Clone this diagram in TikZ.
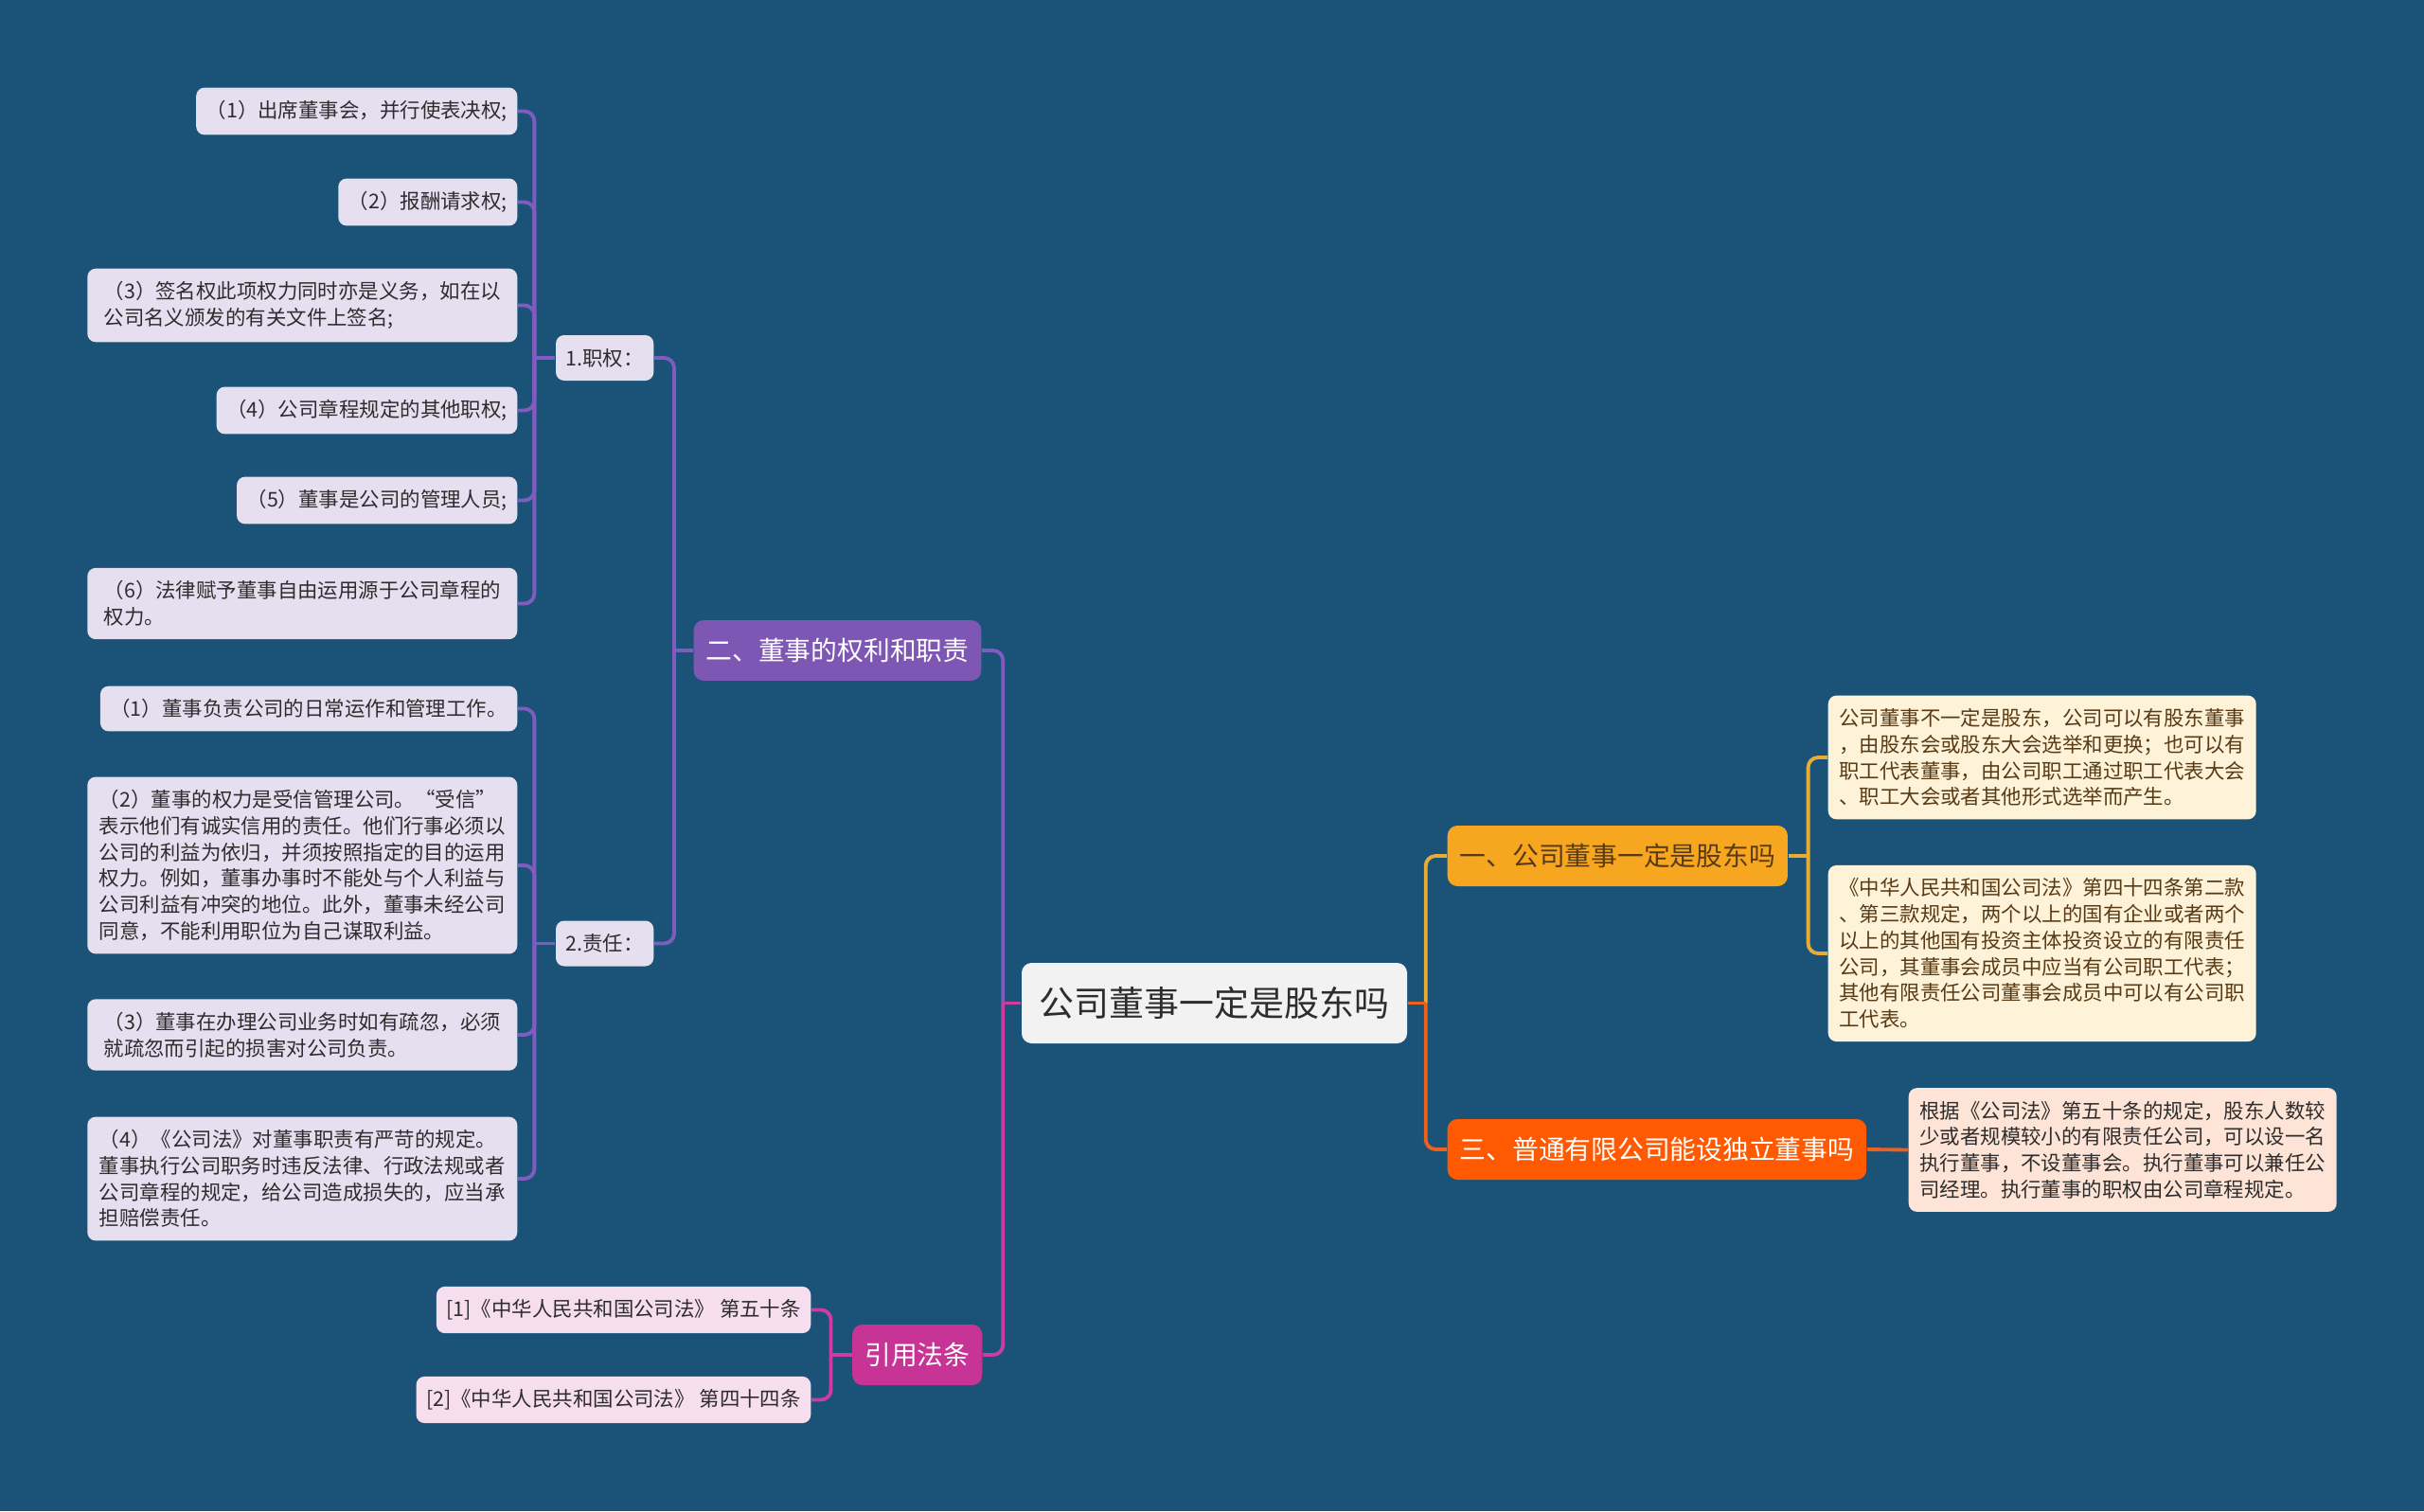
\documentclass[tikz,border=0pt]{standalone}
\usepackage{fontspec}
\newfontfamily\cjk{Noto Sans CJK SC}
\usetikzlibrary{calc}
\definecolor{bgblue}{RGB}{26,83,119}
\definecolor{rootgray}{RGB}{242,242,242}
\definecolor{inkdark}{RGB}{45,45,45}
\definecolor{lavleaf}{RGB}{229,223,240}
\definecolor{purplebr}{RGB}{126,87,180}
\definecolor{purpleln}{RGB}{128,92,192}
\definecolor{goldbr}{RGB}{247,166,32}
\definecolor{goldln}{RGB}{232,172,52}
\definecolor{creamleaf}{RGB}{254,242,216}
\definecolor{browntx}{RGB}{88,58,20}
\definecolor{redbr}{RGB}{255,90,2}
\definecolor{redln}{RGB}{238,96,30}
\definecolor{peachleaf}{RGB}{253,228,214}
\definecolor{magbr}{RGB}{200,52,150}
\definecolor{magln}{RGB}{205,60,160}
\definecolor{pinkleaf}{RGB}{246,222,238}

\tikzset{
  box/.style={rounded corners=2.5pt, inner xsep=3pt, inner ysep=3.9pt, align=left},
  leaf/.style={box, fill=lavleaf, text=inkdark, font=\cjk\fontsize{6.1}{7.9}\selectfont},
  wideleaf/.style={leaf, minimum width=4.54cm},
  note/.style={box, text=browntx, font=\cjk\fontsize{6.1}{7.9}\selectfont, minimum width=4.52cm},
  sub/.style={leaf, minimum width=1.03cm, minimum height=0.48cm, align=center},
  branch/.style={rounded corners=3pt, inner xsep=3.7pt, minimum height=0.64cm, font=\cjk\fontsize{7.9}{9}\selectfont},
  link/.style={line width=1.1pt, rounded corners=3pt}
}

\begin{document}
\begin{tikzpicture}
\fill[bgblue] (0,0) rectangle (25.6,-15.96);
\useasboundingbox (0,0) rectangle (25.6,-15.96);

\node[rounded corners=3pt, fill=rootgray, text=inkdark, minimum width=4.07cm, minimum height=0.85cm,
      font=\cjk\fontsize{10.5}{12}\selectfont] (root) at (12.825,-10.595) {公司董事一定是股东吗};

\node[branch, fill=goldbr, text=browntx, anchor=west] (b1) at (15.28,-9.04) {一、公司董事一定是股东吗};
\node[branch, fill=redbr, text=white, anchor=west] (b3) at (15.28,-12.14) {三、普通有限公司能设独立董事吗};
\node[branch, fill=purplebr, text=white, anchor=east] (b2) at (10.37,-6.87) {二、董事的权利和职责};
\node[branch, fill=magbr, text=white, anchor=east] (b4) at (10.38,-14.31) {引用法条};

\node[note, fill=creamleaf, anchor=west] (r1) at (19.30,-8.00) {公司董事不一定是股东，公司可以有股东董事\\
，由股东会或股东大会选举和更换；也可以有\\
职工代表董事，由公司职工通过职工代表大会\\
、职工大会或者其他形式选举而产生。};
\node[note, fill=creamleaf, anchor=west] (r2) at (19.30,-10.07) {《中华人民共和国公司法》第四十四条第二款\\
、第三款规定，两个以上的国有企业或者两个\\
以上的其他国有投资主体投资设立的有限责任\\
公司，其董事会成员中应当有公司职工代表；\\
其他有限责任公司董事会成员中可以有公司职\\
工代表。};
\node[note, fill=peachleaf, text=inkdark, anchor=west] (r3) at (20.15,-12.145) {根据《公司法》第五十条的规定，股东人数较\\
少或者规模较小的有限责任公司，可以设一名\\
执行董事，不设董事会。执行董事可以兼任公\\
司经理。执行董事的职权由公司章程规定。};

\node[sub, anchor=east] (s1) at (6.91,-3.78) {1.职权：};
\node[sub, anchor=east] (s2) at (6.91,-9.965) {2.责任：};

\node[leaf, anchor=east] (p1) at (5.47,-1.175) {（1）出席董事会，并行使表决权;};
\node[leaf, anchor=east] (p2) at (5.47,-2.135) {（2）报酬请求权;};
\node[wideleaf, anchor=east] (p3) at (5.47,-3.225) {（3）签名权此项权力同时亦是义务，如在以\\
公司名义颁发的有关文件上签名;};
\node[leaf, anchor=east] (p4) at (5.47,-4.335) {（4）公司章程规定的其他职权;};
\node[leaf, anchor=east] (p5) at (5.47,-5.285) {（5）董事是公司的管理人员;};
\node[wideleaf, anchor=east] (p6) at (5.47,-6.375) {（6）法律赋予董事自由运用源于公司章程的\\
权力。};

\node[leaf, anchor=east] (d1) at (5.47,-7.485) {（1）董事负责公司的日常运作和管理工作。};
\node[wideleaf, anchor=east] (d2) at (5.47,-9.14) {（2）董事的权力是受信管理公司。“受信”\\
表示他们有诚实信用的责任。他们行事必须以\\
公司的利益为依归，并须按照指定的目的运用\\
权力。例如，董事办事时不能处与个人利益与\\
公司利益有冲突的地位。此外，董事未经公司\\
同意，不能利用职位为自己谋取利益。};
\node[wideleaf, anchor=east] (d3) at (5.47,-10.93) {（3）董事在办理公司业务时如有疏忽，必须\\
就疏忽而引起的损害对公司负责。};
\node[wideleaf, anchor=east] (d4) at (5.47,-12.45) {（4）《公司法》对董事职责有严苛的规定。\\
董事执行公司职务时违反法律、行政法规或者\\
公司章程的规定，给公司造成损失的，应当承\\
担赔偿责任。};

\node[leaf, fill=pinkleaf, anchor=east] (f1) at (8.57,-13.835) {[1]《中华人民共和国公司法》 第五十条};
\node[leaf, fill=pinkleaf, anchor=east] (f2) at (8.57,-14.785) {[2]《中华人民共和国公司法》 第四十四条};

\coordinate (tl) at ($(root.west)+(-0.19,0)$);
\coordinate (tr) at ($(root.east)+(0.19,0)$);
\coordinate (t1) at ($(b1.east)+(0.21,0)$);
\coordinate (t2) at ($(b2.west)+(-0.2,0)$);
\coordinate (t4) at ($(b4.west)+(-0.22,0)$);
\coordinate (ts1) at ($(s1.west)+(-0.22,0)$);
\coordinate (ts2) at ($(s2.west)+(-0.22,0)$);

\draw[link, purpleln] (tl) |- (b2.east);
\draw[link, magln] (root.west) -- (tl);
\draw[link, magln] (tl) |- (b4.east);
\draw[link, goldln] (tr) |- (b1.west);
\draw[link, redln] (root.east) -- (tr);
\draw[link, redln] (tr) |- (b3.west);

\draw[link, goldln] (b1.east) -- (t1);
\draw[link, goldln] (t1) |- (r1.west);
\draw[link, goldln] (t1) |- (r2.west);
\draw[link, redln] (b3.east) -- (r3.west);

\draw[link, purpleln] (b2.west) -- (t2);
\draw[link, purpleln] (t2) |- (s1.east);
\draw[link, purpleln] (t2) |- (s2.east);

\draw[link, purpleln] (s1.west) -- (ts1);
\foreach \n in {p1,p2,p3,p4,p5,p6}
  \draw[link, purpleln] (ts1) |- (\n.east);
\draw[link, purpleln] (s2.west) -- (ts2);
\foreach \n in {d1,d2,d3,d4}
  \draw[link, purpleln] (ts2) |- (\n.east);

\draw[link, magln] (b4.west) -- (t4);
\draw[link, magln] (t4) |- (f1.east);
\draw[link, magln] (t4) |- (f2.east);
\end{tikzpicture}
\end{document}
